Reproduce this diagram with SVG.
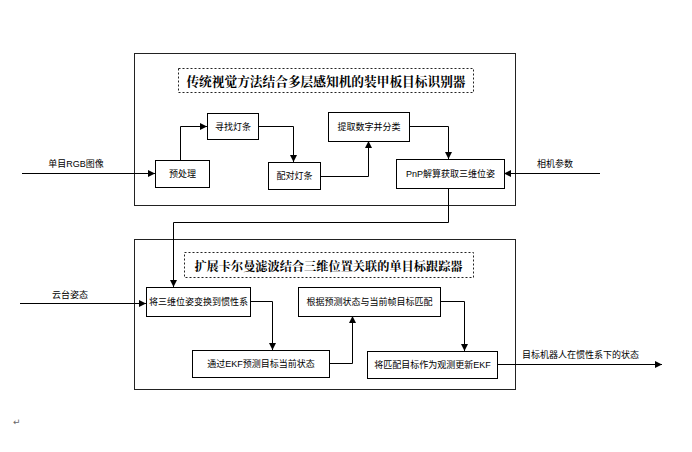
<svg xmlns="http://www.w3.org/2000/svg" width="692" height="452" viewBox="0 0 692 452">
<defs>
<marker id="ah" viewBox="0 0 10 10" refX="10" refY="5" markerWidth="7" markerHeight="7" markerUnits="userSpaceOnUse" orient="auto">
<path d="M0,0 L10,5 L0,10 z" fill="#000"/>
</marker>
<style>
.frame{fill:#fff;stroke:#222;stroke-width:1}
.title{fill:#fff;stroke:#222;stroke-width:1;stroke-dasharray:2,2}
.box{fill:#fff;stroke:#000;stroke-width:1}
.tt{font-family:"Noto Serif CJK SC","Liberation Serif","Noto Sans CJK SC",serif;font-weight:bold;fill:#000;text-anchor:middle;dominant-baseline:central}
.t{font-family:"Liberation Sans","Noto Sans CJK SC",sans-serif;font-size:9px;fill:#000;text-anchor:middle;dominant-baseline:central}
.c{fill:none;stroke:#000;stroke-width:1;marker-end:url(#ah)}
</style>
</defs>
<rect width="692" height="452" fill="#fff"/>
<g id="frame1">
<rect class="frame" x="134.5" y="53.5" width="381" height="152"/>
<rect class="title" x="178.5" y="68.5" width="295" height="24"/>
<text class="tt" x="326" y="80.5" font-size="12.7">传统视觉方法结合多层感知机的装甲板目标识别器</text>
</g>
<g id="frame2">
<rect class="frame" x="134.5" y="239.5" width="381" height="150"/>
<rect class="title" x="184.5" y="252.5" width="289" height="25"/>
<text class="tt" x="328.5" y="265" font-size="12.2">扩展卡尔曼滤波结合三维位置关联的单目标跟踪器</text>
</g>
<g id="connectors">
<path class="c" d="M22,173.5 H155"/>
<path class="c" d="M600,173.5 H504"/>
<path class="c" d="M180.5,160 V126.5 H207"/>
<path class="c" d="M258,126.5 H293.5 V162"/>
<path class="c" d="M320,176.5 H368.5 V141"/>
<path class="c" d="M409,126.5 H448.5 V159"/>
<path class="c" d="M448.5,188 V222.5 H173.5 V287"/>
<path class="c" d="M20,303.5 H146"/>
<path class="c" d="M250,301.5 H272.5 V350"/>
<path class="c" d="M329,363.5 H352.5 V316"/>
<path class="c" d="M440,301.5 H464.5 V351"/>
<path class="c" d="M497,364.5 H662"/>
</g>
<g id="n_input_rgb"><text class="t" x="76" y="164">单目RGB图像</text></g>
<g id="n_input_cam"><text class="t" x="555" y="164">相机参数</text></g>
<g id="n_input_gimbal"><text class="t" x="70" y="295">云台姿态</text></g>
<g id="n_output"><text class="t" x="522" y="355" style="text-anchor:start">目标机器人在惯性系下的状态</text></g>
<g id="n_pre"><rect class="box" x="155.5" y="160.5" width="54" height="27"/><text class="t" x="182.5" y="174">预处理</text></g>
<g id="n_find"><rect class="box" x="207.5" y="113.5" width="51" height="26"/><text class="t" x="233" y="126.5">寻找灯条</text></g>
<g id="n_pair"><rect class="box" x="268.5" y="162.5" width="52" height="27"/><text class="t" x="294.5" y="176">配对灯条</text></g>
<g id="n_digit"><rect class="box" x="328.5" y="112.5" width="81" height="29"/><text class="t" x="369" y="127">提取数字并分类</text></g>
<g id="n_pnp"><rect class="box" x="396.5" y="159.5" width="108" height="29"/><text class="t" x="450.5" y="174">PnP解算获取三维位姿</text></g>
<g id="n_trans"><rect class="box" x="146.5" y="287.5" width="104" height="29"/><text class="t" x="198.5" y="302">将三维位姿变换到惯性系</text></g>
<g id="n_pred"><rect class="box" x="192.5" y="350.5" width="137" height="27"/><text class="t" x="261" y="364">通过EKF预测目标当前状态</text></g>
<g id="n_match"><rect class="box" x="298.5" y="287.5" width="142" height="29"/><text class="t" x="369.5" y="302">根据预测状态与当前帧目标匹配</text></g>
<g id="n_update"><rect class="box" x="367.5" y="351.5" width="130" height="27"/><text class="t" x="432.5" y="365">将匹配目标作为观测更新EKF</text></g>
<text x="13" y="425" font-family="DejaVu Sans,sans-serif" font-size="9" fill="#666">↵</text>
</svg>
